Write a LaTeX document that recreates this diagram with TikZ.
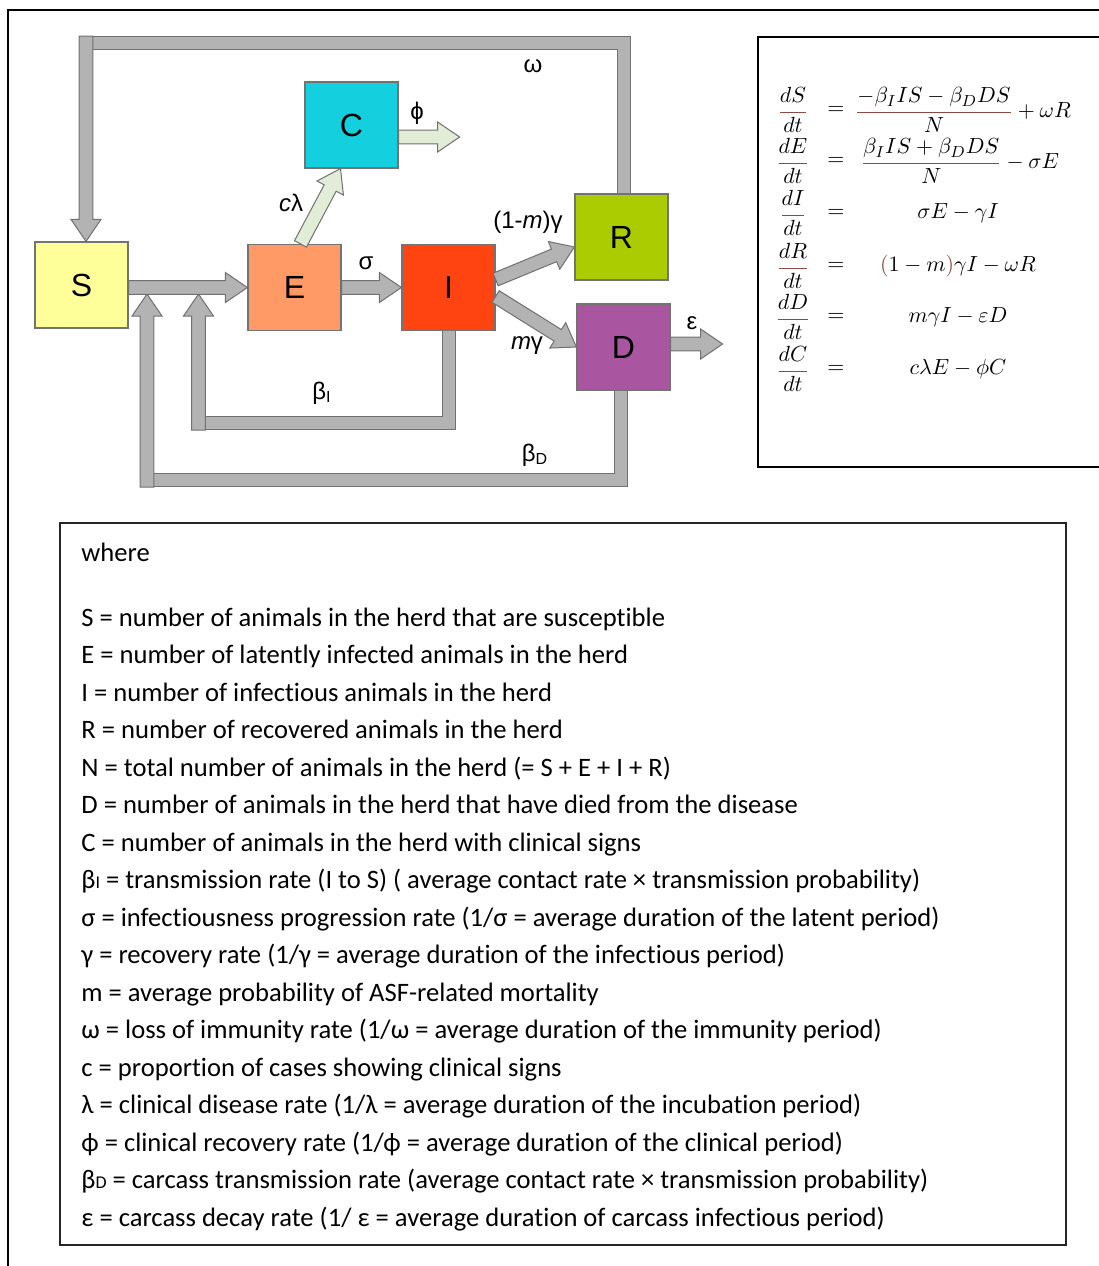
\documentclass[tikz,border=0pt]{standalone}
\usepackage{amsmath}
\usepackage[no-math]{fontspec}
\setmainfont{Carlito}[Ligatures=NoCommon]
\newfontfamily\arialfont{Liberation Sans}
\usepackage{tikz}
\usetikzlibrary{positioning}
\usetikzlibrary{calc}

\definecolor{sbox}{HTML}{FFFF99}
\definecolor{ebox}{HTML}{FF9966}
\definecolor{ibox}{HTML}{FF4411}
\definecolor{cbox}{HTML}{14D0DE}
\definecolor{rbox}{HTML}{AACC00}
\definecolor{dbox}{HTML}{A9559F}
\definecolor{barfill}{HTML}{B3B3B3}
\definecolor{barline}{HTML}{707070}
\definecolor{palegreen}{HTML}{E2EDD8}
\definecolor{eqbar}{HTML}{8C4A44}

% block arrow from #2 to #3
\newcommand{\fatarrow}[3][barfill]{%
  \coordinate (fa neck) at ($(#3)!11pt!(#2)$);
  \filldraw[fatedge,fill=#1] ($(#2)!3.4pt!90:(#3)$) -- ($(fa neck)!3.4pt!90:(#3)$)
    -- ($(fa neck)!7.5pt!90:(#3)$) -- (#3) -- ($(fa neck)!7.5pt!-90:(#3)$)
    -- ($(fa neck)!3.4pt!-90:(#3)$) -- ($(#2)!3.4pt!-90:(#3)$) -- cycle;}
\newcommand{\ddt}[1]{{\color{eqbar}\dfrac{\color{black}d#1}{\color{black}dt}}}
\newcommand{\eqfrac}[2]{{\color{eqbar}\dfrac{\color{black}#1}{\color{black}#2}}}

\begin{document}
\begin{tikzpicture}[x=0.5pt,y=-0.5pt,
  box/.style={draw=black!55,line width=0.6pt,minimum width=46.5pt,minimum height=43pt,
    inner sep=0pt,font=\arialfont\fontsize{16}{16}\selectfont},
  lbl/.style={font=\arialfont\fontsize{12}{12}\selectfont,inner sep=1pt},
  bar/.style={draw=barline,line width=0.5pt,double=barfill,double distance=6pt},
  fatedge/.style={draw=barline,line width=0.5pt,line join=miter},
  eq/.style={font=\fontsize{11}{12}\selectfont,inner sep=0pt},
  legend/.style={anchor=base west,font=\fontsize{13.3}{16}\selectfont,inner sep=0pt}]
  \useasboundingbox (0,0) rectangle (1099,1266);
  % frames
  \draw[line width=0.7pt] (8,1266) -- (8,10) -- (1110,10);
  \draw[line width=0.7pt] (758,37) rectangle (1110,467);
  \draw[line width=1pt,black!85] (60,523) rectangle (1066,1245);

  % compartments
  \node[box,fill=sbox] (S) at (81.5,285) {S};
  \node[box,fill=ebox] (E) at (294.5,287.5) {E};
  \node[box,fill=ibox] (I) at (448.5,287.5) {I};
  \node[box,fill=cbox] (C) at (351.5,125) {C};
  \node[box,fill=rbox] (R) at (621.5,237) {R};
  \node[box,fill=dbox] (D) at (623.5,347) {D};

  % loss of immunity R -> S
  \coordinate (w0) at ($(R.north)+(2,0)$);
  \coordinate (w1) at (623.5,43);
  \coordinate (w2) at (86,43);
  \coordinate (w3) at (86,36);
  \coordinate (wtip) at ($(S.north)+(4.5,0)$);
  \draw[bar] (w0) -- (w1) -- (w2);
  \fatarrow{w3}{wtip}

  % transmission from I
  \coordinate (bi1) at (448.5,423);
  \coordinate (bi2) at (198.5,423);
  \coordinate (bi3) at (198.5,430);
  \coordinate (bitip) at (198.5,294);
  \draw[bar] (I.south) -- (bi1) -- (bi2);
  \fatarrow{bi3}{bitip}

  % transmission from D
  \coordinate (bd0) at ($(D.south)+(-3,0)$);
  \coordinate (bd1) at (620.5,480);
  \coordinate (bd2) at (147,480);
  \coordinate (bd3) at (147,487);
  \coordinate (bdtip) at (147,294);
  \draw[bar] (bd0) -- (bd1) -- (bd2);
  \fatarrow{bd3}{bdtip}

  % flows between compartments
  \coordinate (se tail) at (S.east |- E.west);
  \fatarrow{se tail}{E.west}
  \fatarrow{E.east}{I.west}
  \coordinate (ir tail) at ($(I.east)+(0,-8)$);
  \coordinate (ir tip) at ($(R.west)+(0,10)$);
  \fatarrow{ir tail}{ir tip}
  \coordinate (id tail) at ($(I.east)+(0,9)$);
  \fatarrow{id tail}{D.west}
  \coordinate (de tail) at ($(D.east)+(0,-3)$);
  \coordinate (eps) at ($(D.east)+(52,-3)$);
  \fatarrow{de tail}{eps}
  \coordinate (ec tail) at ($(E.north)+(6,0)$);
  \coordinate (ec tip) at ($(C.south)+(-11,0)$);
  \fatarrow[palegreen]{ec tail}{ec tip}
  \coordinate (cp tail) at ($(C.east)+(0,12)$);
  \coordinate (phi) at ($(C.east)+(61,12)$);
  \fatarrow[palegreen]{cp tail}{phi}

  % rates
  \node[lbl] (l-omega) at (533,66) {ω};
  \node[lbl] (l-phi) at (417,113) {ϕ};
  \node[lbl] (l-clam) at (291,203) {\itshape c\upshape λ};
  \node[lbl] (l-sigma) at (366,263) {σ};
  \node[lbl] (l-rec) at (528,222) {(1-\textit{m})γ};
  \node[lbl] (l-mort) at (527,346) {\textit{m}γ};
  \node[lbl] (l-eps) at (692,323) {ε};
  \node[lbl] (l-bi) at (322,393) {β\textsubscript{I}};
  \node[lbl] (l-bd) at (535,455) {β\textsubscript{D}};

  % equations
  \node[eq] (lhs1) at (793,110) {$\ddt{S}$};
  \node[eq] (eq1) at (836,110) {$=$};
  \node[eq] (rhs1) at (963,110) {$\eqfrac{-\beta_I IS-\beta_D DS}{N}+\omega R$};
  \node[eq] (lhs2) at (793,161) {$\ddt{E}$};
  \node[eq] (eq2) at (836,161) {$=$};
  \node[eq] (rhs2) at (960,161) {$\eqfrac{\beta_I IS+\beta_D DS}{N}-\sigma E$};
  \node[eq] (lhs3) at (793,213) {$\ddt{I}$};
  \node[eq] (eq3) at (836,213) {$=$};
  \node[eq] (rhs3) at (958,213) {$\sigma E-\gamma I$};
  \node[eq] (lhs4) at (793,266) {$\ddt{R}$};
  \node[eq] (eq4) at (836,266) {$=$};
  \node[eq] (rhs4) at (958,266) {${\color{eqbar}(}1-m{\color{eqbar})}\gamma I-\omega R$};
  \node[eq] (lhs5) at (793,317) {$\ddt{D}$};
  \node[eq] (eq5) at (836,317) {$=$};
  \node[eq] (rhs5) at (958,317) {$m\gamma I-\varepsilon D$};
  \node[eq] (lhs6) at (793,369) {$\ddt{C}$};
  \node[eq] (eq6) at (836,369) {$=$};
  \node[eq] (rhs6) at (958,369) {$c\lambda E-\phi C$};

  % legend
  \node[legend] (where) at (81,561) {where};
  \foreach \txt [count=\i from 0] in {
    {S = number of animals in the herd that are susceptible},
    {E = number of latently infected animals in the herd},
    {I = number of infectious animals in the herd},
    {R = number of recovered animals in the herd},
    {N = total number of animals in the herd (= S + E + I + R)},
    {D = number of animals in the herd that have died from the disease},
    {C = number of animals in the herd with clinical signs},
    {β{\fontsize{9}{9}\selectfont I} = transmission rate (I to S) ( average contact rate × transmission probability)},
    {σ = infectiousness progression rate (1/σ = average duration of the latent period)},
    {γ = recovery rate (1/γ = average duration of the infectious period)},
    {m = average probability of ASF-related mortality},
    {ω = loss of immunity rate (1/ω = average duration of the immunity period)},
    {c = proportion of cases showing clinical signs},
    {λ = clinical disease rate (1/λ = average duration of the incubation period)},
    {ϕ = clinical recovery rate (1/ϕ = average duration of the clinical period)},
    {β{\fontsize{9}{9}\selectfont D} = carcass transmission rate (average contact rate × transmission probability)},
    {ε = carcass decay rate (1/ ε = average duration of carcass infectious period)}}
    \node[legend] (def-\i) at (81,626+37.5*\i) {\txt};
\end{tikzpicture}
\end{document}
